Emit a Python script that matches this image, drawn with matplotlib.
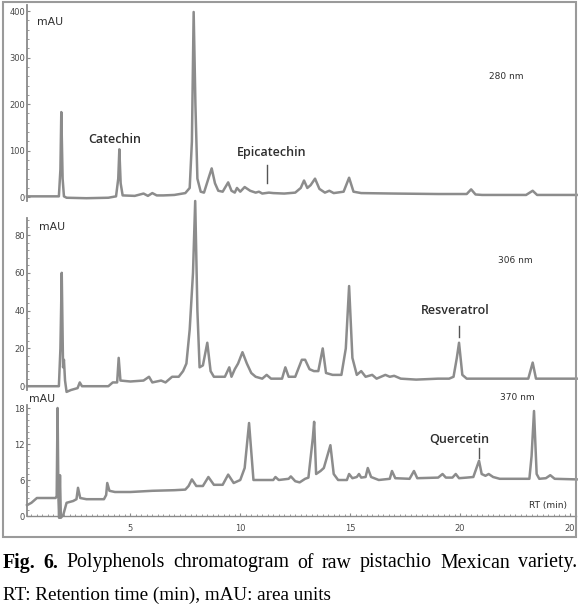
import matplotlib.pyplot as plt
from matplotlib.ticker import MultipleLocator, FixedLocator, FixedFormatter
from matplotlib.patches import Rectangle

# retention time (min) / absorbance (mAU)
rt_280 = [0.3, 1.75, 1.82, 1.86, 1.92, 1.98, 2.1, 3.0, 4.0, 4.35, 4.45, 4.5, 4.56, 4.65,
          5.2, 5.6, 5.8, 6.0, 6.2, 6.5, 7.0, 7.5, 7.7, 7.8, 7.88, 7.96, 8.05, 8.2, 8.35,
          8.55, 8.7, 8.85, 9.0, 9.2, 9.45, 9.6, 9.75, 9.85, 10.0, 10.2, 10.45, 10.7,
          10.85, 11.0, 11.3, 11.5, 12.0, 12.5, 12.75, 12.9, 13.05, 13.2, 13.4, 13.6,
          13.85, 14.05, 14.25, 14.7, 14.95, 15.15, 15.5, 17.0, 19.0, 20.3, 20.5, 20.7,
          21.0, 22.0, 23.0, 23.3, 23.5, 24.5, 25.3]
mau_280 = [2, 2, 60, 183, 40, 2, -1, -2, -1, 2, 40, 103, 30, 4,
           3, 8, 3, 9, 4, 4, 5, 9, 20, 120, 398, 200, 40, 12, 10,
           40, 62, 30, 14, 12, 32, 14, 10, 20, 12, 22, 14, 10,
           12, 8, 10, 9, 8, 10, 20, 36, 20, 26, 40, 18,
           10, 14, 9, 12, 42, 12, 9, 8, 7, 7, 17, 6,
           5, 5, 5, 14, 5, 5, 5]

rt_306 = [0.3, 1.75, 1.82, 1.88, 1.94, 1.98, 2.03, 2.1, 2.3, 2.6, 2.7, 2.8, 3.5, 4.0,
          4.2, 4.4, 4.47, 4.55, 5.0, 5.6, 5.85, 6.0, 6.4, 6.6, 6.9, 7.2, 7.4, 7.55,
          7.7, 7.85, 7.95, 8.05, 8.15, 8.3, 8.5, 8.65, 8.8, 9.3, 9.5, 9.6, 9.75, 9.9,
          10.1, 10.3, 10.5, 10.7, 11.0, 11.2, 11.4, 11.9, 12.05, 12.2, 12.5, 12.8,
          12.95, 13.15, 13.35, 13.55, 13.75, 13.9, 14.2, 14.6, 14.8, 14.95, 15.1, 15.3,
          15.5, 15.7, 16.0, 16.2, 16.6, 16.8, 17.0, 17.3, 18.0, 19.0, 19.5, 19.7,
          19.85, 19.95, 20.1, 20.3, 22.0, 23.1, 23.3, 23.45, 25.3]
mau_306 = [0, 0, 20, 60, 10, 14, 3, -3, -2, -1, 2, 0, 0, 0,
           2, 2, 15, 3, 2.5, 3, 5, 2, 3, 2, 5, 5, 8, 12,
           30, 60, 98, 40, 10, 11, 23, 8, 5, 5, 10, 5, 9, 12,
           18, 12, 7, 5, 4, 6, 4, 4, 10, 5, 5, 14,
           14, 9, 8, 8, 20, 7, 6, 6, 20, 53, 15, 6,
           8, 5, 6, 4, 6, 5, 5.5, 4, 3.5, 4, 4, 5,
           15, 23, 6, 4, 4, 4, 12.5, 4, 4]

rt_370 = [0.3, 0.5, 0.75, 1.6, 1.65, 1.69, 1.73, 1.76, 1.8, 1.84, 1.95, 2.1, 2.4, 2.55,
          2.62, 2.72, 3.0, 3.8, 3.9, 3.95, 4.05, 4.3, 5.0, 6.0, 7.0, 7.5, 7.65, 7.8,
          8.0, 8.3, 8.55, 8.8, 9.2, 9.45, 9.7, 10.0, 10.2, 10.4, 10.6, 11.0, 11.5,
          11.6, 11.75, 12.2, 12.3, 12.5, 12.7, 12.95, 13.1, 13.3, 13.36, 13.45, 13.65,
          13.8, 14.1, 14.25, 14.45, 14.85, 14.95, 15.1, 15.3, 15.4, 15.5, 15.7, 15.8,
          15.95, 16.3, 16.8, 16.9, 17.05, 17.7, 17.9, 18.05, 19.0, 19.2, 19.35, 19.65,
          19.8, 19.95, 20.3, 20.6, 20.86, 20.98, 21.15, 21.3, 21.5, 21.8, 23.15, 23.25,
          23.36, 23.48, 23.6, 23.9, 24.1, 24.3, 25.3]
mau_370 = [1.8, 2.2, 3.0, 3.0, 3.3, 18, 3, -0.3, 6.8, -0.3, 0.2, 2.2, 2.5, 2.8,
           4.7, 3.0, 2.8, 2.8, 3.5, 5.5, 4.2, 4.0, 4.0, 4.2, 4.3, 4.4, 5.0, 6.1,
           5.0, 5.0, 6.5, 5.2, 5.2, 6.9, 5.5, 6.0, 8.0, 15.5, 6.0, 6.0, 6.0,
           6.5, 6.0, 6.2, 6.6, 5.8, 5.6, 6.2, 6.4, 13.0, 15.7, 7.0, 7.5,
           8.0, 11.8, 7.0, 6.0, 6.0, 7.0, 6.3, 6.5, 7.0, 6.4, 6.5, 8.0,
           6.5, 6.0, 6.2, 7.5, 6.3, 6.2, 7.5, 6.3, 6.4, 7.0, 6.4, 6.4,
           7.0, 6.3, 6.4, 6.5, 9.2, 7.0, 6.7, 7.0, 6.5, 6.2, 6.2, 10.0,
           17.5, 7.0, 6.2, 6.3, 6.8, 6.2, 6.1]

# compound labels: (name, label x, label y, marker x, marker y0, marker y1)
labels_280 = [("Catechin", 4.3, 125, None, None, None),
              ("Epicatechin", 11.45, 97, 11.23, 30, 69)]
labels_306 = [("Resveratrol", 19.8, 40, 19.95, 26, 32)]
labels_370 = [("Quercetin", 19.95, 12.7, 20.86, 9.7, 11.3)]

x_ticks = [5, 10, 15, 20, 25]
x_ticklabels = ["5", "10", "15", "20", "20"]

caption_1 = ["Fig.", "6.", "Polyphenols", "chromatogram", "of", "raw", "pistachio",
             "Mexican", "variety."]
caption_2 = "RT: Retention time (min), mAU: area units"

trace_color = "#8c8c8c"
axis_color = "#8a8a8a"
text_color = "#2e2e2e"

W, H = 580, 609
fig = plt.figure(figsize=(W / 100, H / 100), dpi=100)

def px_axes(top, bottom):
    # axes rectangle from pixel rows (left edge 27 px, right edge 576 px)
    return fig.add_axes([27 / W, 1 - bottom / H, 549 / W, (bottom - top) / H])

def style(ax, ylim, yticks, yminor):
    ax.set_xlim(0.3, 25.27)
    ax.set_ylim(*ylim)
    for s in ["top", "right", "bottom"]:
        ax.spines[s].set_visible(False)
    ax.spines["left"].set_color(axis_color)
    ax.spines["left"].set_linewidth(1.3)
    ax.set_yticks(yticks)
    ax.yaxis.set_minor_locator(MultipleLocator(yminor))
    ax.tick_params(axis="y", which="both", direction="in", colors=axis_color,
                   labelcolor="#4a4a4a", labelsize=6, pad=1.5, length=2.5)
    ax.tick_params(axis="y", which="minor", length=1.5)
    ax.set_xticks([])
    ax.patch.set_alpha(0)

def add_labels(ax, labels):
    for name, lx, ly, mx, y0, y1 in labels:
        ax.text(lx, ly, name, fontsize=9, color=text_color, ha="center",
                va="center", family="Open Sans", weight="semibold")
        if mx is not None:
            ax.plot([mx, mx], [y0, y1], color="#555555", lw=1.0)

# panel 1 : 280 nm
ax1 = px_axes(5, 201)
ax1.plot(rt_280, mau_280, color=trace_color, lw=1.8, clip_on=False)
style(ax1, (-8, 413), [0, 100, 200, 300, 400], 20)
add_labels(ax1, labels_280)
ax1.text(1.36, 376, "mAU", fontsize=7.8, color=text_color, ha="center", va="center")
ax1.text(22.1, 260, "280 nm", fontsize=6.5, color=text_color, ha="center", va="center")

# panel 2 : 306 nm
ax2 = px_axes(218, 390)
ax2.plot(rt_306, mau_306, color=trace_color, lw=1.8, clip_on=False)
style(ax2, (-2, 89), [0, 20, 40, 60, 80], 4)
add_labels(ax2, labels_306)
ax2.text(1.45, 84, "mAU", fontsize=7.8, color=text_color, ha="center", va="center")
ax2.text(22.5, 66.7, "306 nm", fontsize=6.5, color=text_color, ha="center", va="center")

# panel 3 : 370 nm
ax3 = px_axes(405, 516)
ax3.plot(rt_370, mau_370, color=trace_color, lw=1.8, clip_on=False)
style(ax3, (0, 18.5), [0, 6, 12, 18], 1)
ax3.spines["bottom"].set_visible(True)
ax3.spines["bottom"].set_color(axis_color)
ax3.spines["bottom"].set_linewidth(1.0)
ax3.xaxis.set_major_locator(FixedLocator(x_ticks))
ax3.xaxis.set_major_formatter(FixedFormatter(x_ticklabels))
ax3.xaxis.set_minor_locator(MultipleLocator(0.25))
ax3.tick_params(axis="x", which="both", direction="in", colors=axis_color,
                labelcolor="#4a4a4a", labelsize=6, length=2, pad=6)
ax3.tick_params(axis="x", which="minor", length=1.2)
add_labels(ax3, labels_370)
ax3.text(1.0, 19.5, "mAU", fontsize=7.8, color=text_color, ha="center", va="center")
ax3.text(22.6, 19.8, "370 nm", fontsize=6.5, color=text_color, ha="center", va="center")
ax3.text(24.0, 1.7, "RT (min)", fontsize=6.5, color=text_color, ha="center", va="center")

# outer frame of the figure panel
fig.patches.append(Rectangle((3 / W, 1 - 537 / H), 573 / W, 535 / H,
                             transform=fig.transFigure, fill=False,
                             edgecolor="#9a9a9a", lw=1.5))

# caption, first line justified to the frame width
cap_font = "Liberation Serif"
y1 = 1 - 563 / H
words = []
for i, w in enumerate(caption_1):
    words.append(fig.text(0, y1, w, fontsize=14.3, family=cap_font,
                          weight="bold" if i < 2 else "normal",
                          va="center", ha="left"))
fig.canvas.draw()
widths = [t.get_window_extent().width for t in words]
left, right = 3, 577
gap = (right - left - sum(widths)) / (len(words) - 1)
x = left
for t, w in zip(words, widths):
    t.set_x(x / W)
    x += w + gap
fig.text(3 / W, 1 - 595 / H, caption_2, fontsize=13.8, family=cap_font,
         va="center", ha="left")

fig.savefig("out.png", dpi=100)
